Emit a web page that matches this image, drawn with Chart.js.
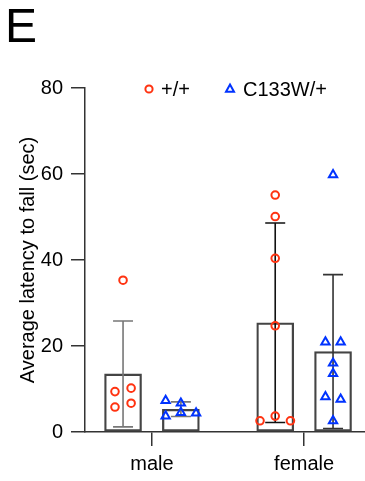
<!DOCTYPE html>
<html>
<head>
<meta charset="utf-8">
<script src="https://cdn.jsdelivr.net/npm/chart.js@4.4.1/dist/chart.umd.min.js"></script>
<style>
  html, body { margin: 0; padding: 0; background: #fff; }
  #wrap { position: relative; width: 365px; height: 481px; }
  #panel { position: absolute; left: 5px; top: 2px; font: 48px/48px "Liberation Sans", Arial, sans-serif; color: #000; }
  canvas { position: absolute; left: 0; top: 0; }
</style>
</head>
<body>
<div id="wrap">
  <canvas id="c" width="365" height="481"></canvas>
  <div id="panel">E</div>
</div>
<script>
// ---- data ----
const categories = ['male', 'female'];
const seriesLabels = ['+/+', 'C133W/+'];
const yTicks = [0, 20, 40, 60, 80];

// group means (bars) and SD (error bars)
const wtMeans  = [13.5, 25.4];
const wtSD     = [12.3, 23.2];
const mutMeans = [5.3, 18.7];
const mutSD    = [1.7, 17.9];

// individual animals
const wtMale     = [35.3, 9.4, 10.2, 5.8, 6.7];
const wtMaleJit  = [0, -0.053, 0.053, -0.053, 0.053];
const wtFemale    = [55.1, 50.1, 40.4, 24.7, 3.7, 2.6, 2.6];
const wtFemaleJit = [0, 0, 0, 0, 0, -0.1, 0.1];
const mutMale     = [7.3, 6.7, 4.5, 3.7, 4.4];
const mutMaleJit  = [-0.1, 0, 0, -0.1, 0.1];
const mutFemale    = [59.8, 20.9, 20.9, 16.0, 13.6, 8.2, 7.6, 2.6];
const mutFemaleJit = [0, -0.05, 0.05, 0, 0, -0.05, 0.05, 0];

// ---- layout/style ----
const SIDE = 0.19;          // bar offset from category centre
const RED = '#ff3311';
const BLUE = '#0033ff';
const FONT = '"Liberation Sans", Arial, Helvetica, sans-serif';

function pts(vals, jit, cat, side) {
  return vals.map((v, i) => ({ x: cat + side + jit[i], y: v }));
}

const barData = [
  { x: 1 - SIDE, y: wtMeans[0],  sd: wtSD[0] },
  { x: 1 + SIDE, y: mutMeans[0], sd: mutSD[0] },
  { x: 2 - SIDE, y: wtMeans[1],  sd: wtSD[1] },
  { x: 2 + SIDE, y: mutMeans[1], sd: mutSD[1] }
];
const errColors = ['#777', '#777', '#111', '#333'];

const errorBars = {
  id: 'errorBars',
  afterDatasetDraw(chart, args) {
    if (chart.data.datasets[args.index].type !== 'bar') return;
    const ctx = chart.ctx, xs = chart.scales.x, ys = chart.scales.y;
    barData.forEach((d, i) => {
      const x = xs.getPixelForValue(d.x);
      const yt = ys.getPixelForValue(d.y + d.sd);
      const yb = ys.getPixelForValue(Math.max(0, d.y - d.sd));
      const cap = 10;
      ctx.save();
      ctx.strokeStyle = errColors[i];
      ctx.lineWidth = 1.6;
      ctx.beginPath();
      ctx.moveTo(x, yt); ctx.lineTo(x, yb);
      ctx.moveTo(x - cap, yt); ctx.lineTo(x + cap, yt);
      ctx.moveTo(x - cap, yb); ctx.lineTo(x + cap, yb);
      ctx.stroke();
      ctx.restore();
    });
  }
};

const customLegend = {
  id: 'customLegend',
  afterDraw(chart) {
    const ctx = chart.ctx;
    const items = [
      { label: seriesLabels[0], style: 'circle', color: RED, mx: 149, tx: 161 },
      { label: seriesLabels[1], style: 'triangle', color: BLUE, mx: 230, tx: 243 }
    ];
    const y = 89;
    ctx.save();
    items.forEach(it => {
      ctx.strokeStyle = it.color;
      ctx.lineWidth = 2;
      ctx.beginPath();
      if (it.style === 'circle') {
        ctx.arc(it.mx, y, 3.6, 0, Math.PI * 2);
      } else {
        ctx.moveTo(it.mx, y - 4.5);
        ctx.lineTo(it.mx + 4, y + 2.8);
        ctx.lineTo(it.mx - 4, y + 2.8);
        ctx.closePath();
      }
      ctx.stroke();
      ctx.fillStyle = '#000';
      ctx.font = '20px ' + FONT;
      ctx.textBaseline = 'middle';
      ctx.textAlign = 'left';
      ctx.fillText(it.label, it.tx, y + 1);
    });
    ctx.restore();
  }
};

new Chart(document.getElementById('c'), {
  type: 'bar',
  data: {
    datasets: [
      {
        type: 'scatter', label: seriesLabels[0],
        data: pts(wtMale, wtMaleJit, 1, -SIDE).concat(pts(wtFemale, wtFemaleJit, 2, -SIDE)),
        pointStyle: 'circle', pointRadius: 3.8, borderColor: RED, backgroundColor: 'rgba(0,0,0,0)',
        borderWidth: 2, pointHoverRadius: 3.8
      },
      {
        type: 'scatter', label: seriesLabels[1],
        data: pts(mutMale, mutMaleJit, 1, SIDE).concat(pts(mutFemale, mutFemaleJit, 2, SIDE)),
        pointStyle: 'triangle', pointRadius: 4.8, borderColor: BLUE, backgroundColor: 'rgba(0,0,0,0)',
        borderWidth: 2, pointHoverRadius: 4.8
      },
      {
        type: 'bar', label: 'mean',
        data: barData,
        backgroundColor: 'rgba(255,255,255,0)',
        borderColor: '#444',
        borderWidth: 1.6,
        barThickness: 37,
        borderSkipped: false
      }
    ]
  },
  options: {
    responsive: false,
    animation: false,
    layout: { autoPadding: false, padding: { left: 0, right: 0, top: 88, bottom: 0 } },
    plugins: {
      legend: { display: false },
      tooltip: { enabled: false }
    },
    scales: {
      x: {
        type: 'linear',
        offset: false,
        min: 0.56, max: 2.40,
        afterBuildTicks(scale) { scale.ticks = categories.map((c, i) => ({ value: i + 1 })); },
        afterFit(scale) { scale.height = 49; scale.paddingLeft = 0; scale.paddingRight = 0; },
        ticks: {
          callback: (v) => categories[Math.round(v) - 1] || '',
          color: '#000', font: { family: FONT, size: 20 }, padding: 6, maxRotation: 0
        },
        grid: { display: true, offset: false, drawOnChartArea: false, drawTicks: true, tickLength: 14, color: '#333', lineWidth: 1.5 },
        border: { display: true, color: '#333', width: 1.5 }
      },
      y: {
        min: 0, max: 80,
        afterBuildTicks(scale) { scale.ticks = yTicks.map(v => ({ value: v })); },
        afterFit(scale) { scale.width = 85; },
        ticks: { color: '#000', font: { family: FONT, size: 20 }, padding: 8 },
        grid: { display: true, drawOnChartArea: false, drawTicks: true, tickLength: 14, color: '#333', lineWidth: 1.5 },
        border: { display: true, color: '#333', width: 1.5 },
        title: { display: true, text: 'Average latency to fall (sec)', color: '#000', font: { family: FONT, size: 20 }, padding: { top: 16, bottom: 0 } }
      }
    }
  },
  plugins: [errorBars, customLegend]
});
</script>
</body>
</html>
